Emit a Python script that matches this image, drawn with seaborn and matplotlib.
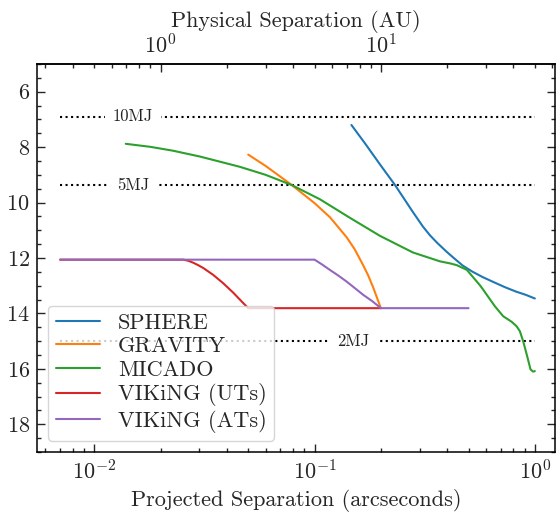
import matplotlib
matplotlib.use("Agg")
import matplotlib.pyplot as plt
import seaborn as sns
import numpy as np
import pandas as pd

# ---------------- data ----------------
sphere_x = [0.147, 0.17, 0.198, 0.232, 0.28, 0.31, 0.334, 0.36, 0.397, 0.43, 0.47, 0.52,
            0.58, 0.65, 0.73, 0.82, 0.91, 1.0]
sphere_y = [7.20, 7.88, 8.62, 9.37, 10.35, 10.86, 11.18, 11.45, 11.77, 12.01, 12.27, 12.49,
            12.69, 12.87, 13.05, 13.21, 13.33, 13.46]

gravity_x = [0.050, 0.060, 0.0789, 0.100, 0.1175, 0.1398, 0.152, 0.1657, 0.175, 0.1845, 0.200]
gravity_y = [8.27, 8.68, 9.37, 10.02, 10.53, 11.25, 11.68, 12.24, 12.62, 13.06, 13.81]

micado_x = [0.0139, 0.018, 0.0228, 0.0302, 0.0458, 0.060, 0.0789, 0.1057, 0.1447, 0.198,
            0.2795, 0.3706, 0.415, 0.4427, 0.4915, 0.5628, 0.5823, 0.6583, 0.718, 0.7841,
            0.8259, 0.8549, 0.8849, 0.9226, 0.956, 0.9824, 1.0]
micado_y = [7.88, 7.99, 8.13, 8.34, 8.71, 9.00, 9.37, 9.88, 10.55, 11.20,
            11.80, 12.12, 12.20, 12.26, 12.43, 12.98, 13.14, 13.74, 14.10, 14.30,
            14.46, 14.64, 15.00, 15.54, 16.02, 16.10, 16.08]

vik_ut_x = [0.007, 0.02535, 0.02672, 0.02814, 0.02965, 0.03124, 0.03468, 0.03849, 0.04273, 0.04646, 0.050, 0.200]
vik_ut_y = [12.06, 12.06, 12.10, 12.17, 12.26, 12.36, 12.61, 12.91, 13.25, 13.55, 13.81, 13.81]

vik_at_x = [0.007, 0.100, 0.108, 0.1174, 0.128, 0.1398, 0.152, 0.1663, 0.183, 0.200, 0.500]
vik_at_y = [12.06, 12.06, 12.23, 12.43, 12.63, 12.85, 13.08, 13.33, 13.56, 13.81, 13.81]

series_names = ["SPHERE", "GRAVITY", "MICADO", "VIKiNG (UTs)", "VIKiNG (ATs)"]

mass_labels = ["10MJ", "5MJ", "2MJ"]
mass_levels = [6.9, 9.37, 15.0]
mass_label_x = [0.015, 0.015, 0.15]
mass_line_x = [0.007, 1.0]

bottom_ticks = [0.01, 0.1, 1.0]
top_ticks = [1.0, 10.0]
au_per_arcsec = 50.0

# ---------------- style ----------------
sns.set_style("ticks")
plt.rcParams["font.family"] = ["cmr10", "DejaVu Serif"]
plt.rcParams["mathtext.fontset"] = "cm"
plt.rcParams["axes.unicode_minus"] = False
plt.rcParams["axes.formatter.use_mathtext"] = True
plt.rcParams["axes.linewidth"] = 1.1
plt.rcParams["axes.edgecolor"] = "black"

colors = sns.color_palette("tab10", 5)

fig = plt.figure(figsize=(5.56, 5.21), dpi=100)
ax = fig.add_axes([0.066, 0.1324, 0.932, 0.7448])
ax.set_xscale("log")

# dotted mass lines with inline labels
for lab, lev, lx in zip(mass_labels, mass_levels, mass_label_x):
    sns.lineplot(x=mass_line_x, y=[lev, lev], ax=ax, color="black", linestyle=":",
                 linewidth=1.5, estimator=None, sort=False)
    ax.text(lx, lev, lab, fontsize=12, ha="center", va="center", color="#222222",
            bbox=dict(boxstyle="square,pad=0.45", fc="white", ec="none"), zorder=3)

xs = [sphere_x, gravity_x, micado_x, vik_ut_x, vik_at_x]
ys = [sphere_y, gravity_y, micado_y, vik_ut_y, vik_at_y]
for name, x, y, c in zip(series_names, xs, ys, colors):
    sns.lineplot(x=x, y=y, ax=ax, color=c, linewidth=1.5, label=name,
                 estimator=None, sort=False, zorder=4)

ax.set_xlim(0.00548, 1.233)
ax.set_ylim(19, 5)
ax.set_xticks(bottom_ticks)
ax.yaxis.set_major_locator(matplotlib.ticker.MultipleLocator(2))
ax.yaxis.set_minor_locator(matplotlib.ticker.MultipleLocator(0.5))

ax.tick_params(which="both", direction="in", right=True, top=False, labelsize=16,
               width=1.0, pad=5)
ax.tick_params(which="major", length=5.5)
ax.tick_params(which="minor", length=3)

ax.set_xlabel("Projected Separation (arcseconds)", fontsize=16)
ax.set_ylabel("")

secax = ax.secondary_xaxis("top", functions=(lambda v: v * au_per_arcsec,
                                             lambda v: v / au_per_arcsec))
secax.set_xticks(top_ticks)
secax.tick_params(which="both", direction="in", labelsize=16, width=1.0, pad=5)
secax.tick_params(which="major", length=5.5)
secax.tick_params(which="minor", length=3)
secax.set_xlabel("Physical Separation (AU)", fontsize=16)

leg = ax.legend(loc="lower left", fontsize=16, frameon=True, labelspacing=0.17,
                borderpad=0.35)
leg.get_frame().set_edgecolor("#cccccc")

fig.savefig("out.png", dpi=100)
